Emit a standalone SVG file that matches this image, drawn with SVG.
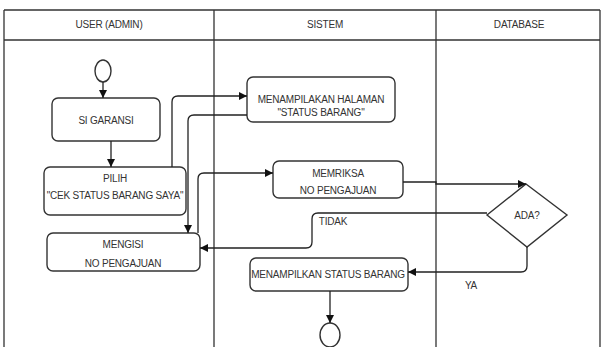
<svg xmlns="http://www.w3.org/2000/svg" width="603" height="347" viewBox="0 0 603 347">
<style>
.lane{fill:none;stroke:#333;stroke-width:1.3}
.box{fill:#fff;stroke:#333;stroke-width:1.4}
.t{font-family:"Liberation Sans",Arial,sans-serif;font-size:10px;fill:#333;text-anchor:middle;letter-spacing:-0.2px}
.c{fill:none;stroke:#222;stroke-width:1.3}
</style>
<defs>
<marker id="ah" viewBox="0 0 10 10" refX="10" refY="5" markerWidth="8" markerHeight="8" orient="auto" markerUnits="userSpaceOnUse">
<path d="M0,0 L10,5 L0,10 z" fill="#111"/>
</marker>
</defs>
<rect width="603" height="347" fill="#fff"/>
<g id="lanes">
<path class="lane" d="M4,10 H600 M4,40 H600 M4,10 V347 M600,10 V347 M214,10 V347 M436,10 V347"/>
<text class="t" x="109" y="28">USER (ADMIN)</text>
<text class="t" x="325" y="28">SISTEM</text>
<text class="t" x="519" y="28">DATABASE</text>
</g>
<g id="start"><ellipse cx="103" cy="71" rx="8" ry="11" class="box"/></g>
<g id="n1"><rect class="box" x="52" y="98" width="108" height="43" rx="6"/><text class="t" x="106" y="124">SI GARANSI</text></g>
<g id="n2"><rect class="box" x="44" y="167" width="142" height="48" rx="6"/><text class="t" x="115" y="182">PILIH</text><text class="t" x="115" y="199">"CEK STATUS BARANG SAYA"</text></g>
<g id="n3"><rect class="box" x="247" y="77" width="148" height="45" rx="6"/><text class="t" x="321" y="103">MENAMPILAKAN HALAMAN</text><text class="t" x="321" y="116">"STATUS BARANG"</text></g>
<g id="n4"><rect class="box" x="273" y="161" width="130" height="37" rx="6"/><text class="t" x="338" y="177">MEMRIKSA</text><text class="t" x="338" y="194">NO PENGAJUAN</text></g>
<g id="n5"><rect class="box" x="47" y="233" width="153" height="38" rx="6"/><text class="t" x="123" y="248">MENGISI</text><text class="t" x="123" y="267">NO PENGAJUAN</text></g>
<g id="d1"><polygon class="box" points="526,184 567,215 527,247 487,215"/><text class="t" x="527" y="219">ADA?</text></g>
<g id="n6"><rect class="box" x="250" y="258" width="158" height="33" rx="6"/><text class="t" x="328" y="278">MENAMPILKAN STATUS BARANG</text></g>
<g id="end"><ellipse cx="330" cy="335" rx="10" ry="12" class="box"/></g>
<g id="connectors">
<path class="c" d="M103,82 V98" marker-end="url(#ah)"/>
<path class="c" d="M111,141 V167" marker-end="url(#ah)"/>
<path class="c" d="M172,167 V102 Q172,96 178,96 H247" marker-end="url(#ah)"/>
<path class="c" d="M247,115 H194 Q188,115 188,121 V233" marker-end="url(#ah)"/>
<path class="c" d="M198,233 V179 Q198,173 204,173 H273" marker-end="url(#ah)"/>
<path class="c" d="M403,182 H436 V184 H526" marker-end="url(#ah)"/>
<path class="c" d="M487,213 H318 Q312,213 312,219 V242 Q312,248 306,248 H200" marker-end="url(#ah)"/>
<path class="c" d="M527,247 V266 Q527,272 521,272 H408" marker-end="url(#ah)"/>
<path class="c" d="M330,291 V323" marker-end="url(#ah)"/>
<text class="t" x="333" y="225">TIDAK</text>
<text class="t" x="471" y="289">YA</text>
</g>
</svg>
